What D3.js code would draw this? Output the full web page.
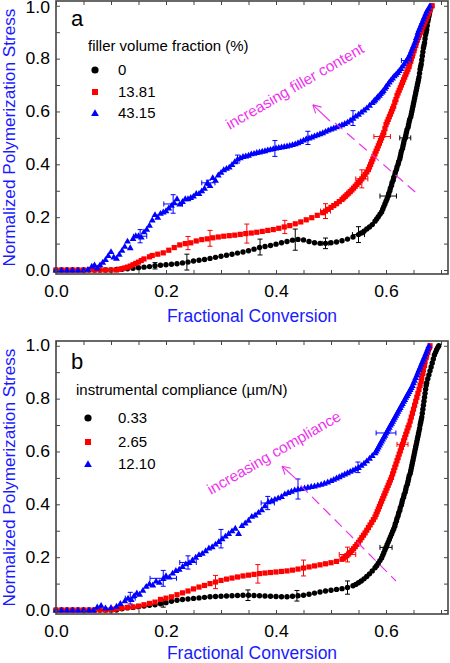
<!DOCTYPE html>
<html><head><meta charset="utf-8">
<script src="https://cdn.jsdelivr.net/npm/d3@7/dist/d3.min.js"></script>
<style>body{margin:0;background:#fff}svg{display:block}text{font-family:"Liberation Sans",Arial,sans-serif}</style>
</head><body>
<svg id="c" width="450" height="663"></svg>
<script>
// ---------- DATA ----------
const xTickValues = [0,0.05,0.1,0.15,0.2,0.25,0.3,0.35,0.4,0.45,0.5,0.55,0.6,0.65,0.7];
const xTickLabels = [0,0.2,0.4,0.6];
const yTickValues = [0,0.1,0.2,0.3,0.4,0.5,0.6,0.7,0.8,0.9,1.0];
const yTickLabels = [0,0.2,0.4,0.6,0.8,1.0];

const legendA = ["0","13.81","43.15"];
const legendB = ["0.33","2.65","12.10"];

// Panel a: filler volume fraction
const aFiller0 = [[0,0],[0.01,0],[0.02,0],[0.03,0],[0.04,0],[0.05,0],[0.06,0],[0.07,0],[0.08,0],[0.09,0],[0.10,0],
[0.11,.002],[0.12,.003],[0.13,.005],[0.14,.007],[0.15,.009],[0.16,.011],[0.17,.013],[0.18,.016],[0.19,.018],[0.20,.02],
[0.21,.022],[0.22,.024],[0.23,.027],[0.24,.03],[0.25,.034],[0.26,.037],[0.27,.04],[0.28,.044],[0.29,.048],[0.30,.052],
[0.31,.056],[0.32,.06],[0.33,.064],[0.34,.068],[0.35,.073],[0.36,.079],[0.37,.085],[0.38,.089],[0.39,.093],[0.40,.098],
[0.41,.103],[0.42,.108],[0.43,.113],[0.44,.116],[0.45,.114],[0.46,.108],[0.47,.103],[0.48,.101],[0.49,.101],[0.50,.103],
[0.51,.106],[0.52,.111],[0.53,.117],[0.54,.125],[0.55,.134],[0.555,.14],[0.56,.147],[0.565,.155],[0.57,.163],[0.575,.172],
[0.58,.185],[0.583,.193],[0.586,.202],[0.589,.211],[0.592,.22],[0.594,.23],[0.596,.24],[0.598,.25],[0.600,.26],[0.602,.27],
[0.604,.28],[0.605,.29],[0.607,.30],[0.608,.31],[0.61,.32],[0.611,.33],[0.613,.34],[0.614,.35],[0.616,.36],[0.617,.37],
[0.619,.38],[0.62,.39],[0.622,.40],[0.623,.41],[0.625,.42],[0.626,.43],[0.627,.44],[0.628,.45],[0.63,.46],[0.631,.47],
[0.632,.48],[0.633,.49],[0.635,.50],[0.636,.51],[0.637,.52],[0.638,.53],[0.64,.54],[0.641,.55],[0.642,.56],[0.643,.57],
[0.645,.58],[0.646,.59],[0.647,.60],[0.648,.61],[0.649,.62],[0.65,.63],[0.651,.64],[0.652,.65],[0.653,.66],[0.654,.67],
[0.655,.68],[0.656,.69],[0.657,.70],[0.658,.71],[0.659,.72],[0.66,.73],[0.661,.745],[0.662,.76],[0.663,.77],[0.664,.78],
[0.665,.795],[0.666,.81],[0.667,.825],[0.668,.84],[0.669,.85],[0.67,.86],[0.671,.875],[0.672,.89],[0.673,.90],[0.674,.91],
[0.675,.925],[0.676,.94],[0.677,.95],[0.678,.96],[0.679,.97],[0.68,.98],[0.681,.99],[0.682,1.0]];

const aFiller13 = [[0,0],[0.01,0],[0.02,0],[0.03,0],[0.04,0],[0.05,0],[0.06,0],[0.07,0],[0.08,0],[0.09,0],[0.10,0],[0.11,0],
[0.115,.003],[0.12,.005],[0.125,.008],[0.13,.011],[0.135,.015],[0.14,.02],[0.145,.025],[0.15,.03],[0.155,.036],[0.16,.042],
[0.17,.05],[0.175,.055],[0.185,.06],[0.195,.065],[0.205,.075],[0.215,.085],[0.225,.095],[0.235,.10],[0.245,.103],[0.255,.11],
[0.265,.115],[0.275,.118],[0.285,.122],[0.295,.125],[0.305,.128],[0.315,.13],[0.325,.132],[0.335,.135],[0.345,.138],[0.355,.14],
[0.365,.143],[0.375,.146],[0.385,.15],[0.395,.153],[0.405,.158],[0.415,.163],[0.425,.168],[0.435,.175],[0.445,.182],[0.455,.19],
[0.465,.198],[0.475,.207],[0.485,.217],[0.49,.223],[0.495,.23],[0.50,.237],[0.505,.244],[0.51,.251],[0.515,.259],
[0.52,.267],[0.523,.273],[0.526,.279],[0.529,.285],[0.532,.291],[0.535,.297],[0.538,.303],[0.541,.31],[0.544,.317],[0.547,.324],
[0.55,.331],[0.553,.338],[0.556,.345],[0.559,.353],[0.562,.362],[0.565,.371],[0.568,.38],[0.57,.39],[0.572,.40],[0.574,.41],
[0.576,.42],[0.578,.43],[0.58,.44],[0.582,.45],[0.584,.46],[0.586,.47],[0.588,.48],[0.59,.49],[0.592,.50],[0.594,.51],
[0.596,.52],[0.598,.535],[0.60,.55],[0.602,.56],[0.604,.57],[0.606,.58],[0.608,.59],[0.61,.60],[0.612,.61],[0.614,.62],
[0.616,.635],[0.618,.645],[0.62,.66],[0.622,.67],[0.624,.68],[0.626,.69],[0.628,.70],[0.63,.71],[0.632,.72],[0.634,.73],
[0.636,.74],[0.638,.75],[0.64,.76],[0.642,.77],[0.643,.78],[0.645,.79],[0.646,.80],[0.648,.81],[0.649,.82],[0.651,.83],
[0.652,.84],[0.654,.85],[0.655,.86],[0.657,.87],[0.659,.88],[0.661,.89],[0.663,.90],[0.665,.91],[0.667,.92],[0.669,.93],
[0.671,.94],[0.673,.95],[0.675,.96],[0.677,.97],[0.679,.98],[0.681,.99],[0.684,1.0]];

const aFiller43 = [[0,0],[0.01,0],[0.02,0],[0.03,0],[0.04,0],[0.05,0],[0.058,.003],
[0.065,.015],[0.07,.02],[0.075,.008],[0.08,.02],[0.085,.03],[0.09,.04],[0.095,.055],[0.10,.07],[0.105,.05],[0.11,.045],
[0.115,.06],[0.12,.075],[0.125,.09],[0.13,.11],[0.135,.085],[0.14,.12],[0.145,.13],[0.15,.13],[0.155,.125],[0.16,.145],
[0.165,.155],[0.17,.17],[0.175,.19],[0.18,.21],[0.185,.20],[0.19,.215],[0.195,.22],[0.20,.225],[0.205,.235],[0.21,.245],
[0.215,.255],[0.22,.27],[0.225,.25],[0.23,.26],[0.235,.27],[0.24,.27],[0.245,.275],[0.25,.28],[0.255,.29],[0.26,.29],
[0.265,.30],[0.27,.31],[0.275,.33],[0.28,.32],[0.285,.35],[0.29,.34],[0.295,.36],[0.30,.37],
[0.305,.38],[0.31,.385],[0.315,.39],[0.32,.40],[0.325,.41],[0.33,.42],[0.335,.425],[0.34,.43],[0.345,.432],[0.35,.435],
[0.355,.44],[0.36,.442],[0.365,.445],[0.37,.447],[0.375,.45],[0.38,.452],[0.385,.455],[0.39,.457],[0.395,.46],[0.40,.462],
[0.405,.464],[0.41,.466],[0.415,.468],[0.42,.47],[0.425,.472],[0.43,.475],[0.435,.478],[0.44,.482],[0.445,.487],[0.45,.492],
[0.455,.497],[0.46,.50],[0.465,.504],[0.47,.508],[0.475,.512],[0.48,.516],[0.485,.52],[0.49,.525],[0.495,.53],[0.50,.534],
[0.505,.538],[0.51,.542],[0.515,.546],[0.52,.55],[0.525,.555],[0.53,.56],[0.535,.567],[0.54,.575],[0.545,.583],[0.55,.59],
[0.555,.598],[0.56,.606],[0.565,.614],[0.57,.624],[0.575,.634],[0.578,.64],[0.58,.645],[0.583,.651],[0.585,.656],[0.588,.662],
[0.59,.668],[0.593,.674],[0.595,.68],[0.598,.688],[0.60,.695],[0.603,.703],[0.606,.712],[0.609,.72],[0.612,.727],[0.615,.735],
[0.618,.741],[0.621,.748],[0.624,.755],[0.627,.763],[0.63,.772],[0.633,.781],[0.636,.79],[0.639,.80],[0.642,.81],[0.644,.82],
[0.646,.83],[0.648,.84],[0.65,.85],[0.652,.86],[0.654,.87],[0.655,.88],[0.657,.89],[0.658,.90],[0.66,.91],[0.662,.92],
[0.664,.93],[0.666,.94],[0.668,.95],[0.67,.96],[0.672,.97],[0.674,.98],[0.677,.99],[0.68,1.0]];

// error bars: [x, y, xerr, yerr]
const aErr0 = [[0.18,.016,0,.012],[0.238,.03,0,.03],[0.371,.087,0,.03],[0.435,.115,0,.04],[0.49,.101,.006,.02],[0.55,.134,.011,.03],[0.604,.28,.015,0],[0.635,.50,.01,0]];
const aErr13 = [[0.24,.102,0,.025],[0.28,.12,0,.03],[0.347,.138,0,.036],[0.416,.163,0,.025],[0.49,.223,.009,.028],[0.556,.345,.011,.034],[0.593,.505,.015,0]];
const aErr43 = [[0.153,.128,.012,.025],[0.213,.25,.017,.035],[0.277,.33,.012,.01],[0.33,.42,0,.015],[0.398,.46,0,.03],[0.458,.50,0,.025],[0.54,.575,0,.028],[0.637,.793,.009,0]];

// Panel b: instrumental compliance
const bComp033 = [[0,0],[0.01,0],[0.02,0],[0.03,0],[0.04,0],[0.05,0],[0.06,0],[0.07,0],[0.08,0],[0.09,0],[0.10,0],[0.11,0],
[0.12,.005],[0.13,.008],[0.14,.01],[0.15,.012],[0.16,.015],[0.17,.018],[0.18,.02],[0.19,.024],[0.20,.028],[0.21,.033],
[0.22,.037],[0.23,.04],[0.24,.042],[0.25,.044],[0.26,.046],[0.27,.048],[0.28,.05],[0.29,.051],[0.30,.052],[0.31,.053],
[0.32,.054],[0.33,.055],[0.34,.056],[0.35,.056],[0.36,.055],[0.37,.054],[0.38,.053],[0.39,.052],[0.40,.051],[0.41,.05],
[0.42,.05],[0.43,.052],[0.44,.054],[0.45,.056],[0.46,.06],[0.47,.064],[0.48,.068],[0.49,.072],[0.50,.075],[0.51,.078],
[0.52,.081],[0.53,.085],[0.54,.092],[0.545,.097],[0.55,.103],[0.555,.11],[0.56,.118],[0.565,.127],[0.57,.137],[0.575,.148],
[0.58,.16],[0.583,.168],[0.586,.177],[0.589,.187],[0.592,.197],[0.594,.207],[0.596,.217],[0.598,.227],[0.60,.237],[0.602,.247],
[0.604,.257],[0.606,.267],[0.608,.277],[0.61,.287],[0.612,.297],[0.614,.307],[0.616,.317],[0.617,.327],[0.619,.337],[0.62,.347],
[0.622,.357],[0.623,.367],[0.625,.377],[0.626,.387],[0.628,.397],[0.629,.407],[0.63,.417],[0.632,.427],[0.633,.437],[0.635,.447],
[0.636,.457],[0.637,.467],[0.639,.477],[0.64,.487],[0.641,.497],[0.642,.507],[0.644,.517],[0.645,.527],[0.646,.537],[0.647,.547],
[0.648,.557],[0.649,.567],[0.65,.577],[0.651,.587],[0.652,.597],[0.653,.607],[0.654,.617],[0.655,.627],[0.656,.637],[0.657,.647],
[0.658,.657],[0.659,.667],[0.66,.677],[0.661,.687],[0.662,.70],[0.663,.71],[0.664,.72],[0.665,.73],[0.666,.745],[0.667,.76],
[0.668,.775],[0.669,.79],[0.67,.805],[0.671,.82],[0.672,.835],[0.673,.85],[0.674,.86],[0.676,.875],[0.678,.89],[0.68,.905],
[0.682,.92],[0.684,.935],[0.686,.95],[0.688,.965],[0.69,.975],[0.692,.985],[0.694,.993],[0.696,1.0]];

const bComp265 = [[0,0],[0.01,0],[0.02,0],[0.03,0],[0.04,0],[0.05,0],[0.06,0],[0.07,0],[0.08,0],[0.09,0],[0.10,0],
[0.105,.003],[0.11,.005],[0.115,.007],[0.12,.008],[0.13,.01],[0.14,.012],[0.15,.015],[0.16,.02],[0.17,.025],[0.18,.03],
[0.19,.04],[0.20,.045],[0.21,.05],[0.22,.058],[0.23,.065],[0.24,.072],[0.25,.08],[0.26,.087],[0.27,.093],[0.28,.10],
[0.29,.106],[0.30,.112],[0.31,.117],[0.32,.121],[0.33,.125],[0.34,.129],[0.35,.132],[0.36,.135],[0.37,.138],[0.38,.14],
[0.39,.142],[0.40,.144],[0.41,.146],[0.42,.148],[0.43,.151],[0.44,.155],[0.45,.159],[0.46,.163],[0.47,.167],[0.48,.171],
[0.49,.175],[0.50,.179],[0.51,.184],
[0.52,.192],[0.523,.196],[0.526,.201],[0.529,.206],[0.532,.212],[0.535,.218],[0.538,.225],[0.541,.232],[0.544,.24],[0.547,.248],
[0.55,.256],[0.553,.265],[0.556,.274],[0.559,.283],[0.562,.292],[0.565,.302],[0.568,.312],[0.571,.322],[0.574,.332],[0.577,.342],
[0.58,.352],[0.582,.362],[0.584,.372],[0.586,.382],[0.588,.392],[0.59,.402],[0.592,.412],[0.594,.422],[0.596,.432],[0.598,.442],
[0.60,.452],[0.602,.462],[0.604,.472],[0.606,.482],[0.608,.492],[0.61,.502],[0.612,.515],[0.614,.527],[0.616,.54],[0.618,.552],
[0.62,.565],[0.622,.577],[0.624,.59],[0.626,.602],[0.628,.615],[0.63,.627],[0.632,.64],[0.634,.652],[0.636,.665],[0.638,.677],
[0.64,.69],[0.642,.70],[0.644,.715],[0.646,.73],[0.648,.745],[0.65,.76],[0.652,.775],[0.654,.79],[0.656,.805],[0.658,.82],
[0.66,.835],[0.662,.85],[0.664,.865],[0.665,.88],[0.667,.895],[0.668,.91],[0.67,.925],[0.671,.94],[0.673,.955],[0.674,.965],
[0.676,.975],[0.677,.985],[0.679,.993],[0.68,1.0]];

const bComp1210 = [[0,0],[0.01,0],[0.02,0],[0.03,0],[0.04,0],[0.05,0],[0.06,0],[0.068,0],
[0.075,.012],[0.082,.018],[0.09,.008],[0.10,.01],[0.11,.015],[0.117,.025],[0.125,.035],[0.131,.045],[0.137,.04],[0.142,.055],
[0.147,.065],[0.152,.06],[0.158,.075],[0.164,.09],[0.17,.10],[0.176,.095],[0.182,.11],[0.188,.105],[0.195,.12],[0.20,.13],
[0.206,.125],[0.212,.14],[0.218,.15],[0.224,.155],[0.23,.165],[0.236,.175],[0.242,.18],[0.248,.19],[0.254,.20],[0.26,.21],
[0.266,.215],[0.272,.225],[0.278,.235],[0.284,.24],[0.29,.25],[0.296,.26],[0.302,.27],[0.308,.28],[0.314,.29],[0.32,.30],
[0.326,.31],[0.332,.29],[0.338,.32],[0.344,.33],[0.35,.34],[0.356,.355],[0.362,.36],[0.368,.37],[0.374,.38],[0.38,.395],
[0.386,.41],[0.392,.415],[0.398,.42],[0.404,.425],[0.41,.43],[0.416,.44],[0.422,.445],[0.428,.45],[0.434,.455],[0.44,.458],
[0.446,.46],[0.452,.462],[0.458,.465],[0.464,.468],[0.47,.47],[0.476,.473],[0.482,.476],[0.488,.48],[0.494,.485],[0.50,.49],
[0.505,.495],[0.51,.50],[0.515,.505],[0.52,.51],[0.525,.515],[0.53,.52],[0.535,.525],[0.54,.53],[0.545,.535],[0.55,.54],
[0.555,.548],[0.56,.556],[0.565,.565],[0.57,.575],[0.575,.585],
[0.58,.595],[0.582,.602],[0.584,.61],[0.586,.617],[0.588,.625],[0.59,.632],[0.592,.64],[0.594,.647],[0.596,.655],[0.598,.662],
[0.60,.67],[0.602,.677],[0.604,.685],[0.606,.692],[0.608,.70],[0.61,.707],[0.612,.715],[0.614,.722],[0.616,.73],[0.618,.737],
[0.62,.745],[0.622,.752],[0.624,.76],[0.626,.767],[0.628,.775],[0.63,.782],[0.632,.79],[0.634,.797],[0.636,.805],[0.638,.812],
[0.64,.82],[0.642,.827],[0.644,.835],[0.646,.842],[0.648,.85],[0.65,.86],[0.652,.87],[0.654,.88],[0.656,.89],[0.658,.90],
[0.66,.91],[0.662,.92],[0.664,.93],[0.666,.94],[0.668,.95],[0.67,.96],[0.672,.97],[0.674,.98],[0.676,.99],[0.678,1.0]];

const bErr033 = [[0.195,.026,0,.015],[0.349,.056,0,.02],[0.438,.054,0,.02],[0.53,.085,0,.025],[0.60,.237,.011,0]];
const bErr265 = [[0.29,.106,0,.025],[0.367,.137,0,.035],[0.45,.159,0,.03],[0.53,.21,.015,.028],[0.63,.627,.01,0]];
const bErr1210 = [[0.135,.045,.009,.022],[0.195,.12,.024,.03],[0.24,.18,.015,.025],[0.30,.27,0,.035],[0.385,.405,.012,.025],[0.44,.458,0,.038],[0.549,.54,0,.02],[0.60,.67,.018,0]];

// annotation anchors (data units)
const annA = {text:"increasing filler content", textAt:[0.316,0.53], arrowFrom:[0.498,0.564], arrowTo:[0.467,0.625], dashFrom:[0.507,0.557], dashTo:[0.655,0.292]};
const annB = {text:"increasing compliance", textAt:[0.282,0.435], arrowFrom:[0.44,0.49], arrowTo:[0.411,0.544], dashFrom:[0.445,0.471], dashTo:[0.618,0.11]};

// ---------- DRAW ----------
const svg = d3.select("#c");
const FONT = '"Liberation Sans", Arial, sans-serif';
const colors = ["#000000","#ff0000","#0000ff"];
const magenta = "#ee33ee";

function marker(g, kind, color, x, y, big){
  if(kind===0){ g.append("circle").attr("cx",x).attr("cy",y).attr("r",big?3.6:2.7).attr("fill",color); }
  else if(kind===1){ const s=big?6:5.2; g.append("rect").attr("x",x-s/2).attr("y",y-s/2).attr("width",s).attr("height",s).attr("fill",color); }
  else { g.append("path").attr("transform",`translate(${x},${y+ (big?0.8:0.6)})`).attr("d",d3.symbol(d3.symbolTriangle, big?26:20)()).attr("fill",color); }
}

function panel(cfg){
  const x = d3.scaleLinear().domain([0,0.7127]).range([56,448]);
  const y = d3.scaleLinear().domain([-0.015,1.018]).range([cfg.bottom,cfg.top]);
  const g = svg.append("g");

  // data
  cfg.series.forEach((s,i)=>{
    const eg = g.append("g").attr("stroke",colors[i]).attr("stroke-width",1).attr("fill","none");
    cfg.errs[i].forEach(e=>{
      const cx=x(e[0]), cy=y(e[1]);
      if(e[3]>0){
        const y1=y(e[1]+e[3]), y2=y(e[1]-e[3]);
        eg.append("line").attr("x1",cx).attr("x2",cx).attr("y1",y1).attr("y2",y2);
        eg.append("line").attr("x1",cx-2.5).attr("x2",cx+2.5).attr("y1",y1).attr("y2",y1);
        eg.append("line").attr("x1",cx-2.5).attr("x2",cx+2.5).attr("y1",y2).attr("y2",y2);
      }
      if(e[2]>0){
        const x1=x(e[0]-e[2]), x2=x(e[0]+e[2]);
        eg.append("line").attr("x1",x1).attr("x2",x2).attr("y1",cy).attr("y2",cy);
        eg.append("line").attr("x1",x1).attr("x2",x1).attr("y1",cy-2.5).attr("y2",cy+2.5);
        eg.append("line").attr("x1",x2).attr("x2",x2).attr("y1",cy-2.5).attr("y2",cy+2.5);
      }
    });
    const mg = g.append("g");
    s.forEach(p=>marker(mg,i,colors[i],x(p[0]),y(p[1]),false));
  });

  // axes (inward ticks on all sides)
  const fmt = d=> (xTickLabels.some(v=>Math.abs(v-d)<1e-9) ? d3.format(".1f")(d) : "");
  const yfmt = d=> (yTickLabels.some(v=>Math.abs(v-d)<1e-9) ? d3.format(".1f")(d) : "");
  const axB = g.append("g").attr("transform",`translate(0,${cfg.bottom})`)
    .call(d3.axisBottom(x).tickValues(xTickValues).tickFormat(fmt).tickSize(-4).tickPadding(12));
  const axT = g.append("g").attr("transform",`translate(0,${cfg.top})`)
    .call(d3.axisTop(x).tickValues(xTickValues).tickFormat("").tickSize(-4));
  const axL = g.append("g").attr("transform",`translate(56,0)`)
    .call(d3.axisLeft(y).tickValues(yTickValues).tickFormat(yfmt).tickSize(-4).tickPadding(6));
  const axR = g.append("g").attr("transform",`translate(448,0)`)
    .call(d3.axisRight(y).tickValues(yTickValues).tickFormat("").tickSize(-4));
  [axB,axT,axL,axR].forEach(a=>{
    a.select(".domain").remove();
    a.selectAll(".tick line").attr("stroke","#444").attr("stroke-width",1);
    a.selectAll("text").attr("font-family",FONT).attr("font-size",16).attr("fill","#000");
  });
  axB.selectAll("text").attr("transform","scale(1.1,1)");
  axL.selectAll("text").each(function(d){
    const t=d3.select(this); const xx=+t.attr("x");
    const dy = (cfg.top < 5 && Math.abs(d-1)<1e-9) ? 1.5 : 0;
    t.attr("x",0).attr("transform",`translate(${xx},${dy}) scale(1.1,1)`);
  });
  g.append("rect").attr("x",56).attr("y",cfg.top).attr("width",392).attr("height",cfg.bottom-cfg.top)
    .attr("fill","none").attr("stroke","#444").attr("stroke-width",1.6);

  // titles
  g.append("text").attr("transform",`translate(15,${(cfg.top+cfg.bottom)/2}) rotate(-90)`)
    .attr("text-anchor","middle").attr("font-size",17.2).attr("fill","#1a1aff").text("Normalized Polymerization Stress");
  g.append("text").attr("x",252).attr("y",cfg.xTitleY).attr("text-anchor","middle")
    .attr("font-size",17.5).attr("fill","#1a1aff").text("Fractional Conversion");

  // panel letter
  g.append("text").attr("x",71).attr("y",cfg.letterY).attr("font-size",22).attr("fill","#000").text(cfg.letter);

  // legend
  g.append("text").attr("transform",`translate(${cfg.legTitleX},${cfg.legTitleY}) scale(1.07,1)`)
    .attr("font-size",14).attr("fill","#000").text(cfg.legTitle);
  cfg.legLabels.forEach((lab,i)=>{
    marker(g,i,colors[i],cfg.legSymX,cfg.legRows[i],true);
    g.append("text").attr("transform",`translate(118,${cfg.legRows[i]+5}) scale(1.07,1)`)
      .attr("font-size",14).attr("fill","#000").text(lab);
  });

  // annotation
  const an = cfg.ann;
  const tx=x(an.textAt[0]), ty=y(an.textAt[1]);
  g.append("text").attr("transform",`translate(${tx},${ty}) rotate(-30)`).attr("font-size",15.3)
    .attr("fill",magenta).text(an.text);
  const ax1=x(an.arrowFrom[0]), ay1=y(an.arrowFrom[1]), ax2=x(an.arrowTo[0]), ay2=y(an.arrowTo[1]);
  const ang=Math.atan2(ay1-ay2, ax1-ax2);
  const ag=g.append("g").attr("stroke",magenta).attr("stroke-width",1.1).attr("fill","none");
  ag.append("line").attr("x1",ax1).attr("y1",ay1).attr("x2",ax2).attr("y2",ay2);
  [-0.5,0.5].forEach(da=>{
    ag.append("line").attr("x1",ax2).attr("y1",ay2)
      .attr("x2",ax2+9*Math.cos(ang+da)).attr("y2",ay2+9*Math.sin(ang+da));
  });
  g.append("line").attr("x1",x(an.dashFrom[0])).attr("y1",y(an.dashFrom[1]))
    .attr("x2",x(an.dashTo[0])).attr("y2",y(an.dashTo[1]))
    .attr("stroke",magenta).attr("stroke-width",1.2).attr("stroke-dasharray","10,6");
}

panel({top:1,bottom:274,xTitleY:322,letter:"a",letterY:26,
  series:[aFiller0,aFiller13,aFiller43],errs:[aErr0,aErr13,aErr43],
  legTitle:"filler volume fraction (%)",legTitleX:88,legTitleY:51,legSymX:95,legRows:[70,92,113],legLabels:legendA,ann:annA});
panel({top:341,bottom:614,xTitleY:659,letter:"b",letterY:369,
  series:[bComp033,bComp265,bComp1210],errs:[bErr033,bErr265,bErr1210],
  legTitle:"instrumental compliance (\u00b5m/N)",legTitleX:76,legTitleY:395,legSymX:88,legRows:[418,442,464],legLabels:legendB,ann:annB});
</script>
</body></html>
